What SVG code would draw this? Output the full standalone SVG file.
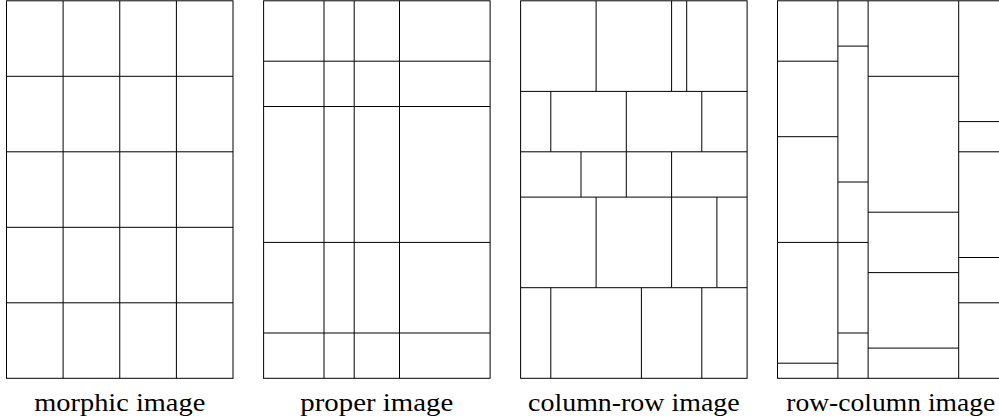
<svg xmlns="http://www.w3.org/2000/svg" width="999" height="419" viewBox="0 0 999 419">
<style>
.l{stroke:#000;stroke-width:1;fill:none}
.t{font-family:"Liberation Serif","Times New Roman",serif;font-size:26px;fill:#000;text-anchor:middle}
</style>
<rect width="999" height="419" fill="#fff"/>
<g id="morphic">
<rect class="l" x="6.5" y="0.8" width="226.5" height="377.5"/>
<path class="l" d="M63.1 0.8V378.3M119.75 0.8V378.3M176.4 0.8V378.3M6.5 76.3H233M6.5 151.8H233M6.5 227.3H233M6.5 302.8H233"/>
<text class="t" x="119.75" y="410.5" textLength="171" lengthAdjust="spacingAndGlyphs">morphic image</text>
</g>
<g id="proper">
<rect class="l" x="263.6" y="0.8" width="226.5" height="377.5"/>
<path class="l" d="M324 0.8V378.3M354.2 0.8V378.3M399.5 0.8V378.3M263.6 61.2H490.1M263.6 106.5H490.1M263.6 242.4H490.1M263.6 333H490.1"/>
<text class="t" x="376.85" y="410.5" textLength="153" lengthAdjust="spacingAndGlyphs">proper image</text>
</g>
<g id="column-row">
<rect class="l" x="520.6" y="0.8" width="226.5" height="377.5"/>
<path class="l" d="M520.6 91.4H747.1M520.6 151.8H747.1M520.6 197.1H747.1M520.6 287.7H747.1
M596.1 0.8V91.4M671.6 0.8V91.4M686.7 0.8V91.4
M550.8 91.4V151.8M626.3 91.4V151.8M701.8 91.4V151.8
M581 151.8V197.1M626.3 151.8V197.1M671.6 151.8V197.1
M596.1 197.1V287.7M671.6 197.1V287.7M716.9 197.1V287.7
M550.8 287.7V378.3M641.4 287.7V378.3M701.8 287.7V378.3"/>
<text class="t" x="633.85" y="410.5" textLength="211.5" lengthAdjust="spacingAndGlyphs">column-row image</text>
</g>
<g id="row-column">
<rect class="l" x="777.5" y="0.8" width="226.5" height="377.5"/>
<path class="l" d="M837.9 0.8V378.3M868.1 0.8V378.3M958.7 0.8V378.3
M777.5 61.2H837.9M777.5 136.7H837.9M777.5 242.4H837.9M777.5 363.2H837.9
M837.9 46.1H868.1M837.9 182H868.1M837.9 242.4H868.1M837.9 333H868.1
M868.1 76.3H958.7M868.1 212.2H958.7M868.1 272.6H958.7M868.1 348.1H958.7
M958.7 121.6H1004M958.7 151.8H1004M958.7 257.5H1004M958.7 302.8H1004"/>
<text class="t" x="890.75" y="410.5" textLength="209" lengthAdjust="spacingAndGlyphs">row-column image</text>
</g>
</svg>
